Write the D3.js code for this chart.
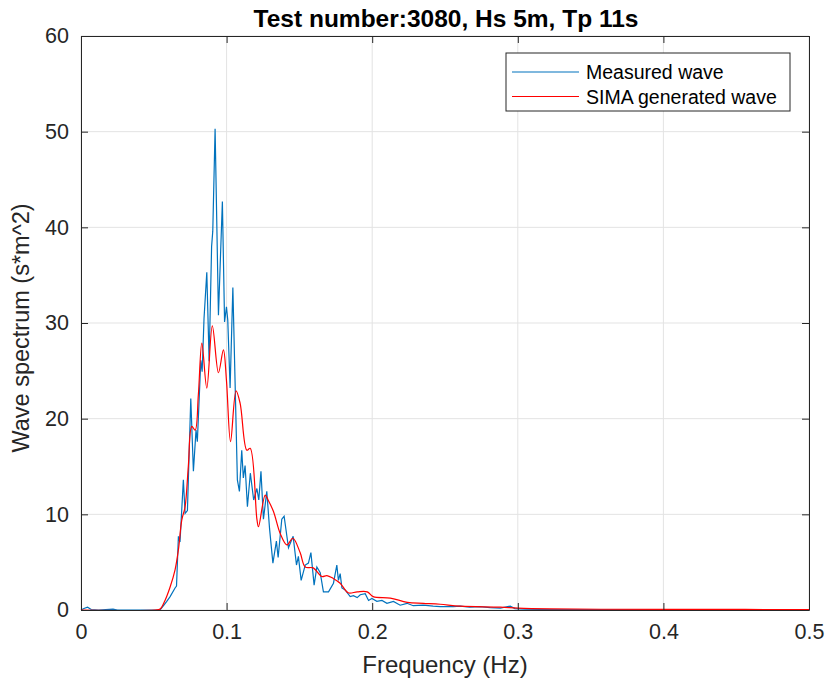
<!DOCTYPE html>
<html>
<head>
<meta charset="utf-8">
<script src="https://cdn.jsdelivr.net/npm/d3@7"></script>
<style>
  body { margin: 0; background: #fff; }
  svg { font-family: "Liberation Sans", Arial, sans-serif; }
</style>
</head>
<body>
<svg id="chart" width="826" height="683"></svg>
<script>
// measured wave spectrum
const measuredFreq = [0, 0.002, 0.0045, 0.007, 0.012, 0.022, 0.025, 0.0543, 0.0564, 0.0589, 0.0612, 0.0646, 0.0656,
  0.0669, 0.0680, 0.0703, 0.0715, 0.0731, 0.0754, 0.0772, 0.0790, 0.0799, 0.0823, 0.0832, 0.0845, 0.0864,
  0.0880, 0.0897, 0.0905, 0.0921, 0.0944, 0.0971, 0.0986, 0.0999, 0.1008, 0.1024, 0.1043, 0.1074, 0.1088,
  0.1104, 0.1115, 0.1127, 0.1143, 0.1163, 0.1186, 0.1208, 0.1221, 0.1236, 0.1253, 0.1276, 0.1295, 0.1318,
  0.1342, 0.1354, 0.1379, 0.1395, 0.1425, 0.1457, 0.1480, 0.1493, 0.1512, 0.1540, 0.1562, 0.1579, 0.1601,
  0.1620, 0.1643, 0.1665, 0.1700, 0.1734, 0.1757, 0.1768, 0.1780, 0.1792, 0.1814, 0.1849, 0.1871, 0.1897,
  0.1918, 0.1952, 0.1975, 0.1998, 0.2032, 0.2067, 0.2101, 0.2146, 0.2192, 0.2239, 0.2282, 0.2351, 0.2419,
  0.2467, 0.2557, 0.2605, 0.267, 0.274, 0.281, 0.288, 0.2948, 0.298, 0.305, 0.315, 0.35, 0.4, 0.45, 0.5]
const measuredVal = [0, 0.15, 0.3, 0.05, 0, 0.1, 0, 0, 0.4, 0.9, 1.4, 2.3, 2.5,
  7.7, 7.1, 13.6, 10.1, 10.4, 22.1, 14.5, 18.8, 17.6, 26.1, 24.9, 30.5, 35.3,
  26, 38, 39.6, 50.3, 30.8, 42.7, 30.1, 31.7, 30.3, 23.2, 33.7, 13.6, 12.4,
  16.7, 13.8, 15.1, 10.8, 14.3, 11.5, 12.7, 11.5, 14.5, 9.5, 12.4, 8.5, 4.9,
  7.2, 5.5, 9.5, 9.8, 6.5, 7.7, 4.7, 5.6, 3.1, 4.7, 4.9, 6.0, 2.6,
  4.5, 3.9, 1.9, 1.9, 2.8, 4.7, 3.1, 3.8, 2.3, 2.1, 1.4, 1.5, 1.3,
  1.6, 1.7, 1.0, 1.2, 0.9, 1.0, 0.7, 0.9, 0.5, 0.7, 0.45, 0.5, 0.4,
  0.35, 0.35, 0.4, 0.3, 0.35, 0.25, 0.2, 0.4, 0.15, 0.1, 0.05, 0.03, 0.02, 0.02, 0.02]

// SIMA generated wave spectrum
const simaFreq = [0, 0.0509, 0.0543, 0.0577, 0.0612, 0.0646, 0.0669, 0.0692, 0.0715, 0.0737, 0.0761, 0.0784,
  0.0806, 0.0830, 0.0864, 0.0902, 0.0944, 0.0978, 0.0999, 0.1027, 0.1065, 0.1093, 0.1139, 0.1162, 0.1208,
  0.1219, 0.1265, 0.1285, 0.1322, 0.1368, 0.1414, 0.1455, 0.1505, 0.1540, 0.1595, 0.1654, 0.1689, 0.1732,
  0.1780, 0.1835, 0.1897, 0.1966, 0.2007, 0.2124, 0.2241, 0.2351, 0.2467, 0.2605, 0.288, 0.30, 0.322,
  0.357, 0.425, 0.5]
const simaVal = [0, 0, 0.1, 1.0, 2.4, 4.2, 6.3, 9.4, 10.8, 15, 19.2, 18.8,
  22.5, 27.9, 23.2, 29.7, 24.8, 27.2, 24, 17.6, 22.9, 21.6, 16.7, 16.9, 9.5,
  8.7, 12.0, 11.5, 10.3, 8.0, 6.8, 7.5, 6.0, 4.5, 4.4, 3.5, 3.6, 3.3,
  2.8, 1.8, 1.9, 1.9, 1.4, 1.25, 0.8, 0.7, 0.6, 0.4, 0.3, 0.2, 0.12,
  0.08, 0.06, 0.05]

const xTicks = [0, 0.1, 0.2, 0.3, 0.4, 0.5]
const yTicks = [0, 10, 20, 30, 40, 50, 60]
const seriesNames = ['Measured wave', 'SIMA generated wave']
const seriesColors = ['#0072BD', '#FF0000']

const margin = {top: 36, right: 17, bottom: 73, left: 81}
const width = 826 - margin.left - margin.right
const height = 683 - margin.top - margin.bottom
const axisColor = '#262626'

const svg = d3.select('#chart')
const g = svg.append('g').attr('transform', `translate(${margin.left},${margin.top})`)

const x = d3.scaleLinear().domain([0, 0.5]).range([0, width])
const y = d3.scaleLinear().domain([0, 60]).range([height, 0])

// grid
g.append('g').selectAll('line').data(xTicks).join('line')
  .attr('x1', d => x(d)).attr('x2', d => x(d)).attr('y1', 0).attr('y2', height)
  .attr('stroke', '#e3e3e3').attr('stroke-width', 1)
g.append('g').selectAll('line').data(yTicks).join('line')
  .attr('y1', d => y(d)).attr('y2', d => y(d)).attr('x1', 0).attr('x2', width)
  .attr('stroke', '#e3e3e3').attr('stroke-width', 1)

// series
const line = d3.line().x(d => x(d[0])).y(d => y(d[1]))
const series = [
  d3.zip(measuredFreq, measuredVal),
  d3.zip(simaFreq, simaVal)
]
g.append('path').datum(series[0])
  .attr('d', line).attr('fill', 'none')
  .attr('stroke', seriesColors[0]).attr('stroke-width', 1.2)
g.append('path').datum(series[1])
  .attr('d', line.curve(d3.curveCatmullRom)).attr('fill', 'none')
  .attr('stroke', seriesColors[1]).attr('stroke-width', 1.2)

// axes (ticks inward, box on)
const tickLen = 7
g.append('g').attr('transform', `translate(0,${height})`)
  .call(d3.axisBottom(x).tickValues(xTicks).tickFormat(d3.format('')).tickSizeInner(-tickLen).tickSizeOuter(0).tickPadding(14))
g.append('g')
  .call(d3.axisTop(x).tickValues(xTicks).tickFormat('').tickSizeInner(-tickLen).tickSizeOuter(0))
g.append('g')
  .call(d3.axisLeft(y).tickValues(yTicks).tickSizeInner(-tickLen).tickSizeOuter(0).tickPadding(12))
g.append('g').attr('transform', `translate(${width},0)`)
  .call(d3.axisRight(y).tickValues(yTicks).tickFormat('').tickSizeInner(-tickLen).tickSizeOuter(0))

g.selectAll('.domain').attr('stroke', axisColor)
g.selectAll('.tick line').attr('stroke', axisColor)
g.selectAll('.tick text').attr('fill', axisColor).style('font-size', '21.5px')
  .style('font-family', '"Liberation Sans", Arial, sans-serif')

// labels
g.append('text').attr('x', width / 2).attr('y', height + 63)
  .attr('text-anchor', 'middle').attr('fill', axisColor).style('font-size', '24px')
  .text('Frequency (Hz)')
g.append('text').attr('transform', `translate(-52,${height / 2 + 5}) rotate(-90)`)
  .attr('text-anchor', 'middle').attr('fill', axisColor).style('font-size', '23.5px')
  .text('Wave spectrum (s*m^2)')
g.append('text').attr('x', width / 2 + 1).attr('y', -9)
  .attr('text-anchor', 'middle').attr('fill', '#000').style('font-size', '24.5px').style('font-weight', 'bold')
  .text('Test number:3080, Hs 5m, Tp 11s')

// legend
const legend = g.append('g').attr('transform', `translate(${506 - margin.left},${53 - margin.top})`)
legend.append('rect').attr('width', 284).attr('height', 58)
  .attr('fill', '#fff').attr('stroke', axisColor).attr('stroke-width', 1)
seriesNames.forEach((name, i) => {
  const ly = 19 + i * 24.5
  legend.append('line').attr('x1', 6).attr('x2', 73).attr('y1', ly).attr('y2', ly)
    .attr('stroke', seriesColors[i]).attr('stroke-width', 1.2)
  legend.append('text').attr('x', 80).attr('y', ly + 7)
    .attr('fill', '#000').style('font-size', '19.5px').text(name)
})
</script>
</body>
</html>
